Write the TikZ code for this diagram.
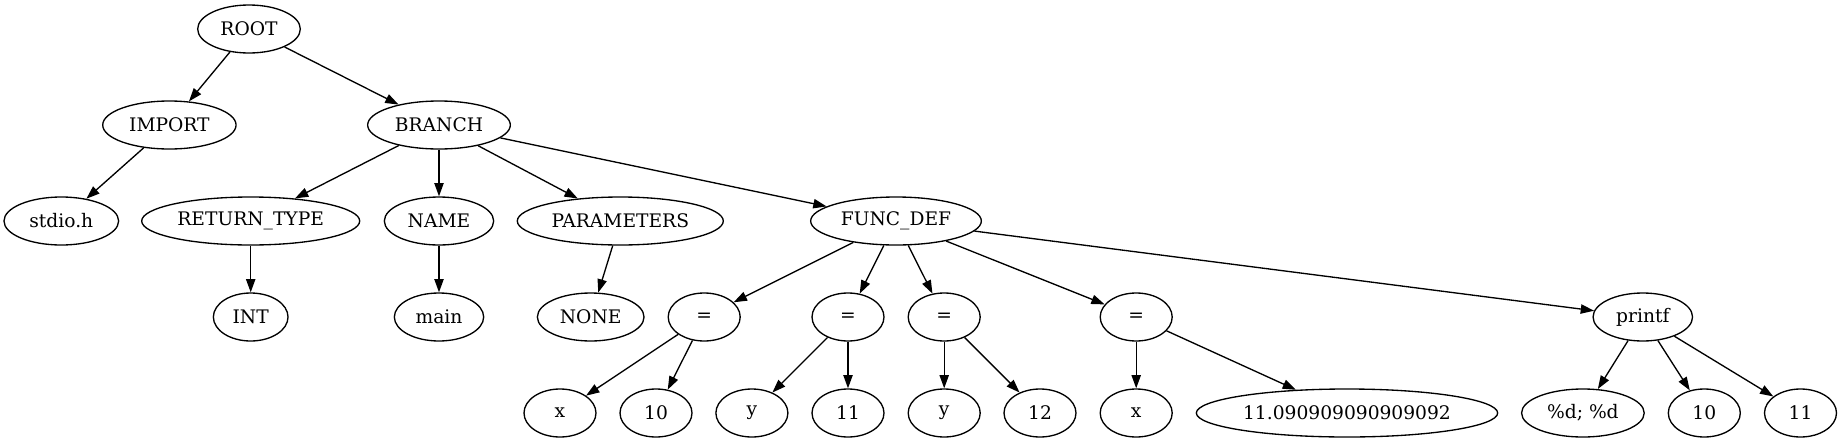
\documentclass[tikz,border=0pt]{standalone}
\usepackage{fontspec}
\setmainfont{DejaVu Serif}
\usetikzlibrary{shapes.geometric,arrows.meta}
\begin{document}
\begin{tikzpicture}[x=0.75pt,y=-0.75pt,
  nd/.style={draw, ellipse, line width=1pt, inner sep=0pt, minimum height=36pt, minimum width=54pt,
             font=\fontsize{14}{16}\selectfont},
  ed/.style={line width=1pt, -{Triangle[length=10pt,width=7pt]}}]
\useasboundingbox (0,0) rectangle (1842,443);
% rank 1
\node[nd, minimum width=77pt] (root) at (249,29) {ROOT};
% rank 2
\node[nd, minimum width=100pt] (import) at (169.4,125) {IMPORT};
\node[nd, minimum width=107pt] (branch) at (439,125) {BRANCH};
% rank 3
\node[nd, minimum width=86pt] (stdio) at (61.3,221) {stdio.h};
\node[nd, minimum width=163.5pt] (rettype) at (250.7,221) {RETURN\_TYPE};
\node[nd, minimum width=82pt] (name) at (439,221) {NAME};
\node[nd, minimum width=154.5pt] (params) at (620.3,221) {PARAMETERS};
\node[nd, minimum width=128pt] (funcdef) at (896,221) {FUNC\_DEF};
% rank 4
\node[nd, minimum width=56pt] (int) at (250.7,317) {INT};
\node[nd, minimum width=67pt] (main) at (439,317) {main};
\node[nd, minimum width=80pt] (none) at (590.7,317) {NONE};
\node[nd] (eqa) at (704.2,317) {=};
\node[nd] (eqb) at (848,317) {=};
\node[nd] (eqc) at (944.2,317) {=};
\node[nd] (eqd) at (1136.2,317) {=};
\node[nd, minimum width=74.6pt] (printf) at (1642.8,317) {printf};
% rank 5
\node[nd] (xa) at (560,413) {x};
\node[nd] (tena) at (656,413) {10};
\node[nd] (ya) at (751.9,413) {y};
\node[nd] (elevena) at (848,413) {11};
\node[nd] (yb) at (944.2,413) {y};
\node[nd] (twelve) at (1040,413) {12};
\node[nd] (xb) at (1136.2,413) {x};
\node[nd, minimum width=226pt] (float) at (1347,413) {11.090909090909092};
\node[nd, minimum width=92pt] (fmt) at (1582.9,413) {\%d; \%d};
\node[nd] (tenb) at (1704.3,413) {10};
\node[nd] (elevenb) at (1800.5,413) {11};
% edges
\draw[ed] (root) -- (import);
\draw[ed] (root) -- (branch);
\draw[ed] (import) -- (stdio);
\draw[ed] (branch) -- (rettype);
\draw[ed] (branch) -- (name);
\draw[ed] (branch) -- (params);
\draw[ed] (branch) -- (funcdef);
\draw[ed] (rettype) -- (int);
\draw[ed] (name) -- (main);
\draw[ed] (params) -- (none);
\draw[ed] (funcdef) -- (eqa);
\draw[ed] (funcdef) -- (eqb);
\draw[ed] (funcdef) -- (eqc);
\draw[ed] (funcdef) -- (eqd);
\draw[ed] (funcdef) -- (printf);
\draw[ed] (eqa) -- (xa);
\draw[ed] (eqa) -- (tena);
\draw[ed] (eqb) -- (ya);
\draw[ed] (eqb) -- (elevena);
\draw[ed] (eqc) -- (yb);
\draw[ed] (eqc) -- (twelve);
\draw[ed] (eqd) -- (xb);
\draw[ed] (eqd) -- (float);
\draw[ed] (printf) -- (fmt);
\draw[ed] (printf) -- (tenb);
\draw[ed] (printf) -- (elevenb);
\end{tikzpicture}
\end{document}
